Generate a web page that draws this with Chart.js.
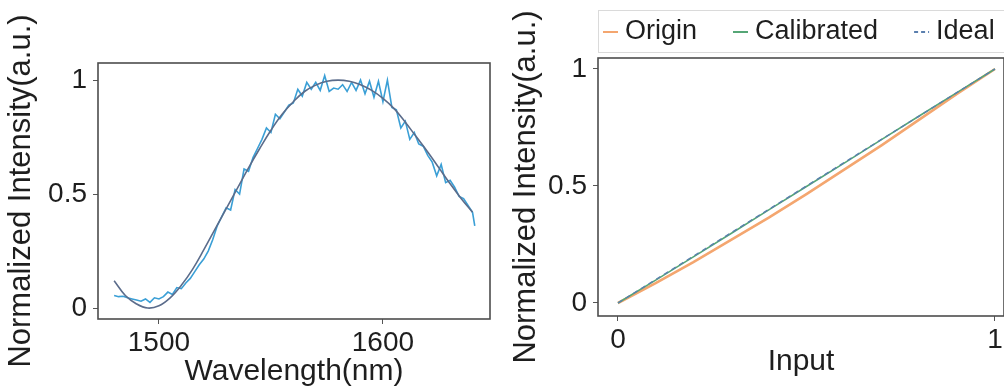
<!DOCTYPE html>
<html>
<head>
<meta charset="utf-8">
<script src="https://cdn.jsdelivr.net/npm/chart.js@4.4.1/dist/chart.umd.min.js"></script>
<style>
  html, body { margin: 0; padding: 0; background: #fff; overflow: hidden; }
  #wrap { position: relative; width: 1004px; height: 392px; overflow: hidden; }
  #spectrum { position: absolute; left: 0; top: 0; }
  #transfer { position: absolute; left: 505px; top: 0; }
</style>
</head>
<body>
<div id="wrap">
  <canvas id="spectrum" width="505" height="392"></canvas>
  <canvas id="transfer" width="540" height="392"></canvas>
</div>
<script>
// measured spectrum (nm, normalized)
var wavelengthNm = [1480, 1482, 1484, 1486, 1488, 1490, 1492, 1494, 1496, 1498,
    1500, 1502, 1504, 1506, 1508, 1510, 1512, 1514, 1516, 1518,
    1520, 1522, 1524, 1526, 1528, 1530, 1532, 1534, 1536, 1538,
    1540, 1542, 1544, 1546, 1548, 1550, 1552, 1554, 1556, 1558,
    1560, 1562, 1564, 1566, 1568, 1570, 1572, 1574, 1576, 1578,
    1580, 1582, 1584, 1586, 1588, 1590, 1592, 1594, 1596, 1598,
    1600, 1602, 1604, 1606, 1608, 1610, 1612, 1614, 1616, 1618,
    1620, 1622, 1624, 1626, 1628, 1630, 1632, 1634, 1636, 1638,
    1640, 1641];
var measured = [0.055, 0.05, 0.052, 0.045, 0.04, 0.035, 0.03, 0.04, 0.025, 0.045,
    0.04, 0.05, 0.07, 0.06, 0.09, 0.085, 0.11, 0.13, 0.16, 0.19,
    0.215, 0.25, 0.30, 0.36, 0.40, 0.44, 0.43, 0.52, 0.50, 0.61,
    0.60, 0.66, 0.70, 0.74, 0.79, 0.77, 0.85, 0.83, 0.86, 0.89,
    0.90, 0.96, 0.93, 0.99, 0.96, 0.99, 0.955, 1.02, 0.95, 0.965,
    0.96, 0.98, 0.95, 0.99, 0.955, 1.0, 0.94, 0.995, 0.925, 0.995,
    0.905, 1.0, 0.88, 0.87, 0.79, 0.82, 0.74, 0.77, 0.72, 0.71,
    0.67, 0.64, 0.58, 0.63, 0.55, 0.56, 0.53, 0.49, 0.48, 0.45,
    0.42, 0.36];

// fitted envelope
var fitNm = [1480, 1485, 1490, 1495, 1500, 1505, 1510, 1515, 1520, 1525, 1530,
    1535, 1540, 1545, 1550, 1555, 1560, 1565, 1570, 1575, 1580,
    1585, 1590, 1595, 1600, 1605, 1610, 1615, 1620, 1625, 1630, 1635, 1640];
var fitted = [0.12, 0.055, 0.018, 0.0, 0.01, 0.045, 0.10, 0.17, 0.255, 0.345, 0.435,
    0.525, 0.615, 0.70, 0.78, 0.85, 0.905, 0.95, 0.978, 0.995, 1.0,
    0.995, 0.98, 0.955, 0.92, 0.875, 0.815, 0.75, 0.685, 0.615, 0.545, 0.48, 0.42];

// input -> output transfer
var inputLevels = [0, 0.1, 0.2, 0.3, 0.4, 0.5, 0.6, 0.7, 0.8, 0.9, 1];
var originOut = [0, 0.085, 0.175, 0.27, 0.365, 0.465, 0.57, 0.675, 0.785, 0.895, 1.0];
var calibratedOut = [0, 0.098, 0.197, 0.297, 0.398, 0.498, 0.598, 0.699, 0.8, 0.9, 1.0];
var idealOut = [0, 0.1, 0.2, 0.3, 0.4, 0.5, 0.6, 0.7, 0.8, 0.9, 1.0];

var wlTicks = [1500, 1600];
var intensityTicks = [0, 0.5, 1];
var inputTicks = [0, 1];

var FONT = '"Liberation Sans", Arial, Helvetica, sans-serif';
var INK = '#1e1e1e';

function pairs(xs, ys) {
    return xs.map(function(x, i){ return {x: x, y: ys[i]}; });
}

var frameBox = {
    id: 'frameBox',
    afterDraw: function(chart){
        var a = chart.chartArea, ctx = chart.ctx;
        ctx.save();
        ctx.strokeStyle = '#4d4d4d';
        ctx.lineWidth = 1.6;
        ctx.strokeRect(a.left, a.top, a.right - a.left, a.bottom - a.top);
        ctx.restore();
    }
};

// boxed key row above the right panel
var lineKey = {
    id: 'lineKey',
    afterDraw: function(chart){
        var ctx = chart.ctx, a = chart.chartArea;
        var y = 32;
        ctx.save();
        ctx.fillStyle = '#fff';
        ctx.strokeStyle = '#dadada';
        ctx.lineWidth = 1;
        ctx.fillRect(a.left, 10, 460, 42);
        ctx.strokeRect(a.left + 0.5, 10.5, 460, 42);
        ctx.font = '27px ' + FONT;
        ctx.textBaseline = 'middle';
        var x = a.left + 5;
        chart.data.datasets.forEach(function(ds){
            ctx.strokeStyle = ds.borderColor;
            ctx.lineWidth = 2;
            ctx.setLineDash(ds.borderDash ? [4, 3] : []);
            ctx.beginPath();
            ctx.moveTo(x, y);
            ctx.lineTo(x + 15, y);
            ctx.stroke();
            ctx.setLineDash([]);
            x += 22;
            ctx.fillStyle = INK;
            ctx.fillText(ds.label, x, y);
            x += ctx.measureText(ds.label).width + 36;
        });
        ctx.restore();
    }
};

function plainLabel(v){ return String(v); }

function axisY(min, max, width){
    return {
        type: 'linear', min: min, max: max,
        afterBuildTicks: function(s){ s.ticks = intensityTicks.map(function(v){ return {value: v}; }); },
        afterFit: function(s){ s.width = width; },
        border: {display: false},
        grid: {drawOnChartArea: false, drawTicks: true, tickLength: 5, color: '#555'},
        ticks: {color: INK, padding: 6, font: {family: FONT, size: 28}, callback: plainLabel},
        title: {display: true, text: 'Normalized Intensity(a.u.)', color: INK,
            padding: {top: 3, bottom: 0}, font: {family: FONT, size: 31}}
    };
}

function axisX(min, max, height, tickVals, label, padBottom){
    return {
        type: 'linear', min: min, max: max,
        afterBuildTicks: function(s){ s.ticks = tickVals.map(function(v){ return {value: v}; }); },
        afterFit: function(s){ s.height = height; },
        border: {display: false},
        grid: {drawOnChartArea: false, drawTicks: true, tickLength: 5, color: '#555'},
        ticks: {color: INK, padding: 2, maxRotation: 0, font: {family: FONT, size: 28},
            callback: plainLabel},
        title: {display: true, text: label, color: INK,
            padding: {top: 0, bottom: padBottom}, font: {family: FONT, size: 30}}
    };
}

new Chart(document.getElementById('spectrum'), {
    type: 'line',
    data: {
        datasets: [{
            label: 'Fit',
            data: pairs(fitNm, fitted),
            borderColor: '#5b6c8b',
            borderWidth: 1.6,
            tension: 0.4,
            pointRadius: 0
        }, {
            label: 'Measured',
            data: pairs(wavelengthNm, measured),
            borderColor: '#3a9fd6',
            borderWidth: 1.6,
            tension: 0,
            pointRadius: 0
        }]
    },
    options: {
        responsive: false,
        animation: false,
        devicePixelRatio: 1,
        layout: {padding: {left: 0, top: 63, right: 15, bottom: 0}},
        plugins: {legend: {display: false}, tooltip: {enabled: false}},
        scales: {
            x: axisX(1472.8, 1647.8, 73, wlTicks, 'Wavelength(nm)', 2),
            y: axisY(-0.048, 1.075, 98)
        }
    },
    plugins: [frameBox]
});

new Chart(document.getElementById('transfer'), {
    type: 'line',
    data: {
        datasets: [{
            label: 'Origin',
            data: pairs(inputLevels, originOut),
            borderColor: '#f4a66f',
            borderWidth: 2.6,
            pointRadius: 0,
            order: 3
        }, {
            label: 'Calibrated',
            data: pairs(inputLevels, calibratedOut),
            borderColor: '#55a676',
            borderWidth: 1.6,
            pointRadius: 0,
            order: 2
        }, {
            label: 'Ideal',
            data: pairs(inputLevels, idealOut),
            borderColor: '#5a7fae',
            borderWidth: 1.4,
            borderDash: [5, 4],
            pointRadius: 0,
            order: 1
        }]
    },
    options: {
        responsive: false,
        animation: false,
        devicePixelRatio: 1,
        layout: {padding: {left: 0, top: 58, right: 41, bottom: 0}},
        plugins: {legend: {display: false}, tooltip: {enabled: false}},
        scales: {
            x: axisX(-0.053, 1.024, 76, inputTicks, 'Input', 12),
            y: axisY(-0.0556, 1.047, 93)
        }
    },
    plugins: [frameBox, lineKey]
});
</script>
</body>
</html>
